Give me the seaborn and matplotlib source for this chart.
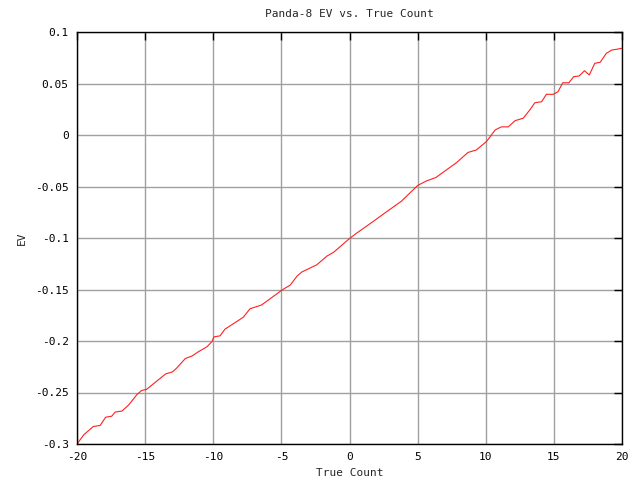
import pandas as pd
import matplotlib
matplotlib.use("Agg")
import matplotlib.pyplot as plt
import seaborn as sns
from matplotlib.ticker import FormatStrFormatter, MultipleLocator

# valori
true_count = [-20.0, -19.5, -18.8, -18.3, -17.9, -17.45, -17.2, -16.7, -16.2, -15.6,
              -15.25, -14.9, -14.15, -13.5, -13.0, -12.7, -12.05, -11.55, -11.1, -10.45,
              -10.1, -9.95, -9.5, -9.15, -8.5, -7.8, -7.3, -6.45, -4.95, -4.35,
              -3.85, -3.5, -2.4, -1.65, -1.15, 0.0, 0.5, 1.7, 2.7, 3.8,
              5.0, 5.65, 6.35, 7.1, 7.85, 8.7, 9.3, 10.05, 10.7, 11.15,
              11.65, 12.15, 12.75, 13.25, 13.6, 14.1, 14.45, 14.95, 15.3, 15.65,
              16.1, 16.45, 16.85, 17.25, 17.6, 18.0, 18.4, 18.85, 19.25, 19.6, 20.0]
ev = [-0.300, -0.291, -0.283, -0.282, -0.274, -0.273, -0.269, -0.268, -0.262, -0.252,
      -0.248, -0.247, -0.239, -0.232, -0.230, -0.2265, -0.217, -0.2145, -0.2105, -0.2055,
      -0.2006, -0.196, -0.195, -0.1886, -0.183, -0.177, -0.1687, -0.165, -0.1505, -0.1457,
      -0.137, -0.133, -0.126, -0.1175, -0.1137, -0.1005, -0.0955, -0.0843, -0.0747, -0.0644,
      -0.049, -0.0446, -0.0412, -0.034, -0.0269, -0.0169, -0.0146, -0.0064, 0.005, 0.0079,
      0.0079, 0.0139, 0.0163, 0.0246, 0.0313, 0.0323, 0.0395, 0.0395, 0.042, 0.0507,
      0.0507, 0.0566, 0.0573, 0.0624, 0.0583, 0.0696, 0.0706, 0.0793, 0.0825, 0.0832, 0.0842]

df = pd.DataFrame({"True Count": true_count, "EV": ev})

sns.set_style("white")
plt.rcParams["font.family"] = ["DejaVu Sans Mono"]
plt.rcParams["axes.unicode_minus"] = False
plt.rcParams["font.size"] = 8

fig = plt.figure(figsize=(6.4, 4.8), dpi=100)
ax = fig.add_axes([77 / 640, 36 / 480, 545 / 640, 412 / 480])

sns.lineplot(data=df, x="True Count", y="EV", sort=False, color="#ff2020",
             linewidth=0.8, ax=ax)

ax.set_xlim(-20, 20)
ax.set_ylim(-0.3, 0.1)
ax.xaxis.set_major_locator(MultipleLocator(5))
ax.yaxis.set_major_locator(MultipleLocator(0.05))
ax.yaxis.set_major_formatter(FormatStrFormatter("%g"))
ax.grid(True, color="#a0a0a0", linewidth=1)
ax.tick_params(direction="in", length=6, width=1, top=True, right=True,
               colors="black", labelsize=8, pad=6)
for s in ax.spines.values():
    s.set_color("black")
    s.set_linewidth(1)

ax.set_title("Panda-8 EV vs. True Count", fontsize=8, pad=11)
ax.set_xlabel("True Count", fontsize=8, labelpad=4)
ax.set_ylabel("EV", fontsize=8, labelpad=6)

fig.savefig("out.png", dpi=100)
